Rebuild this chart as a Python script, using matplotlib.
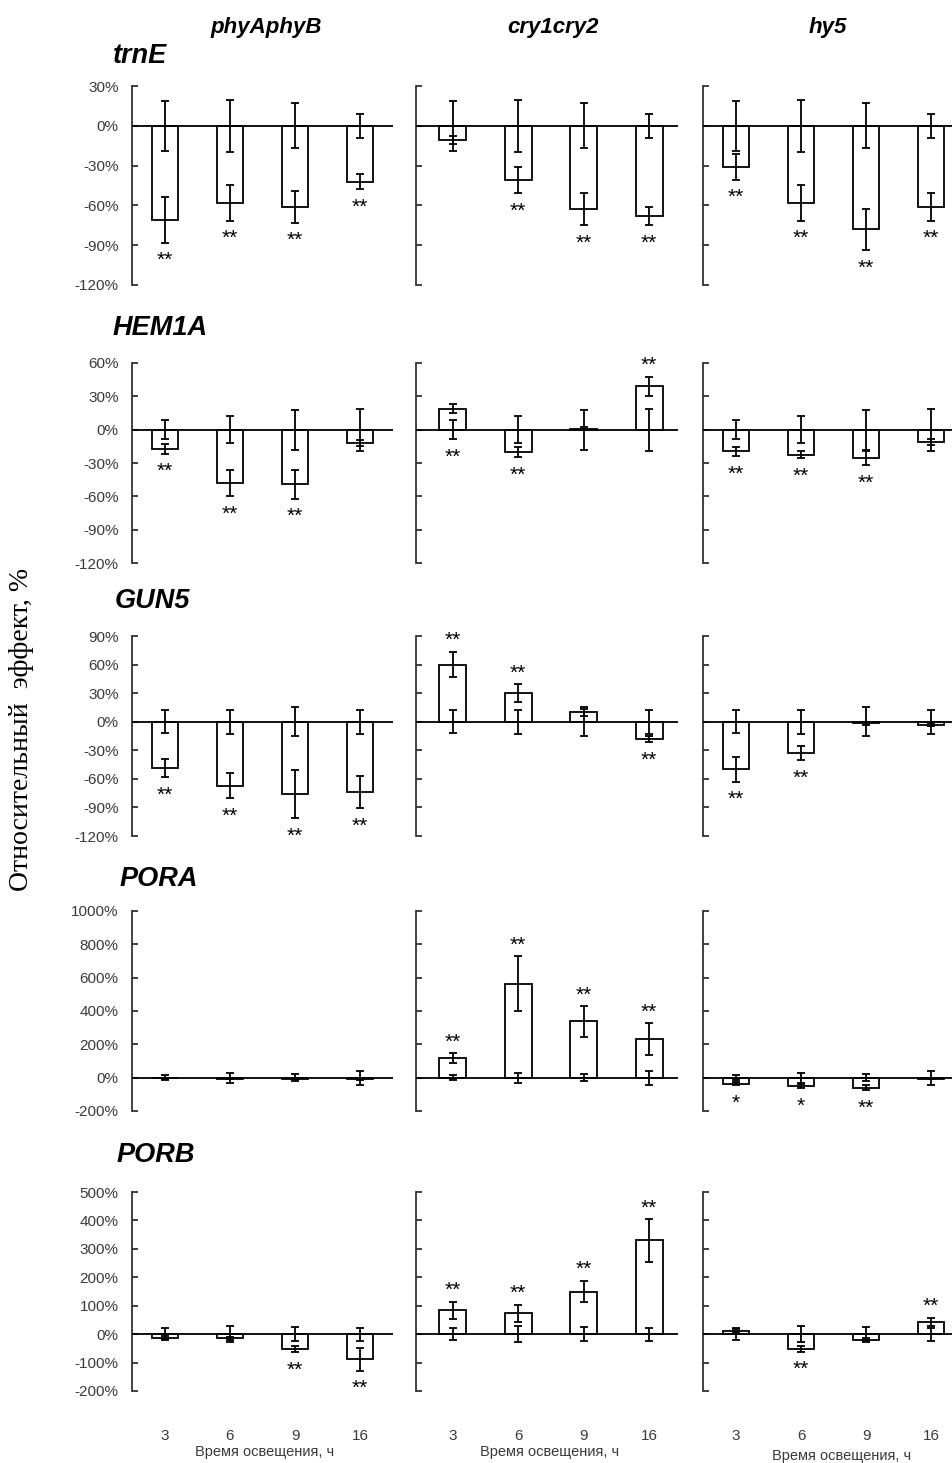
import numpy as np
import matplotlib
matplotlib.use('Agg')
import matplotlib.pyplot as plt
from matplotlib.ticker import FixedLocator, FuncFormatter

plt.rcParams['font.family'] = ['Liberation Sans', 'DejaVu Sans']

# Mutants (columns), genes (rows) and light exposure times
mutants = ['phyAphyB', 'cry1cry2', 'hy5']
genes = ['trnE', 'HEM1A', 'GUN5', 'PORA', 'PORB']
hours = ['3', '6', '9', '16']

# Relative effect (%) per mutant, its error, control error per time point, significance
trne_mean = [[-71, -58, -61, -42], [-11, -41, -63, -68], [-31, -58, -78, -61]]
trne_err = [[17, 13.5, 12, 6], [3, 10, 12, 7], [9.5, 13.5, 15.5, 10.5]]
trne_ctrl = [19, 19.5, 17, 9]
trne_sig = [['**', '**', '**', '**'], ['', '**', '**', '**'], ['**', '**', '**', '**']]

hem1a_mean = [[-17, -48, -49, -12], [19, -20, 1, 39], [-19.5, -22.5, -25.5, -11]]
hem1a_err = [[4.5, 12, 13, 3], [4, 4.5, 1, 8.5], [4, 3, 6.5, 2.5]]
hem1a_ctrl = [8.5, 12, 18, 19]
hem1a_sig = [['**', '**', '**', ''], ['**', '**', '', '**'], ['**', '**', '**', '']]

gun5_mean = [[-49, -67, -76, -74], [60, 30, 10, -18], [-50, -33, -1.5, -3]]
gun5_err = [[9.5, 13, 25, 16.5], [13.5, 9.5, 3.5, 3.5], [13, 7.5, 1.5, 1.5]]
gun5_ctrl = [12, 12.5, 15, 12.5]
gun5_sig = [['**', '**', '**', '**'], ['**', '**', '', '**'], ['**', '**', '', '']]

pora_mean = [[-4, -5, -5, -6], [118, 564, 338, 232], [-36, -50, -60, -6]]
pora_err = [[5, 5, 5, 5], [28, 165, 92, 95], [8, 12, 14, 4]]
pora_ctrl = [14, 29, 21, 41]
pora_sig = [['', '', '', ''], ['**', '**', '**', '**'], ['*', '*', '**', '']]

porb_mean = [[-12, -15, -52, -88], [84, 73, 150, 330], [12, -52, -20, 42]]
porb_err = [[5, 5, 12, 40], [30, 30, 38, 75], [5, 10, 8, 15]]
porb_ctrl = [20, 27, 24, 23]
porb_sig = [['', '', '**', '**'], ['**', '**', '**', '**'], ['', '**', '', '**']]

# y ranges and tick steps per gene
ylims = [(-120, 30, 30), (-120, 60, 30), (-120, 90, 30), (-200, 1000, 200), (-200, 500, 100)]

# marks that sit under the bar even though the bar goes up
marks_below = {(1, 1, 0)}

means = [trne_mean, hem1a_mean, gun5_mean, pora_mean, porb_mean]
errs = [trne_err, hem1a_err, gun5_err, pora_err, porb_err]
ctrls = [trne_ctrl, hem1a_ctrl, gun5_ctrl, pora_ctrl, porb_ctrl]
sigs = [trne_sig, hem1a_sig, gun5_sig, pora_sig, porb_sig]

W, H = 953, 1463
fig = plt.figure(figsize=(W / 100, H / 100), dpi=100)

rows_px = [(86, 285), (363, 563), (636, 836), (911, 1111), (1192, 1391)]
cols_px = [(132.5, 260, -0.5), (416, 262, -0.56), (703, 260, -0.51)]
title_px = [(113, 56), (113, 328), (115, 601), (120, 879), (117, 1155)]

x = np.arange(len(hours))
tick_color = '#3a3a3a'

for r in range(len(genes)):
    top, bot = rows_px[r]
    lo, hi, step = ylims[r]
    for c in range(len(mutants)):
        x0, w, xl = cols_px[c]
        ax = fig.add_axes([x0 / W, 1 - bot / H, w / W, (bot - top) / H])
        m = np.array(means[r][c], dtype=float)
        e = np.array(errs[r][c], dtype=float)
        ctrl = np.array(ctrls[r], dtype=float)

        ax.bar(x, m, width=0.41, facecolor='white', edgecolor='black', linewidth=1.3, zorder=2)
        ax.axhline(0, color='black', lw=1.3, zorder=3)
        ax.errorbar(x, np.zeros_like(x, dtype=float), yerr=ctrl, fmt='none', ecolor='black',
                    elinewidth=1.3, capsize=3, capthick=1.3, zorder=4)
        ax.errorbar(x, m, yerr=e, fmt='none', ecolor='black',
                    elinewidth=1.3, capsize=3, capthick=1.3, zorder=4)

        # significance marks beyond the outer whisker
        for i, s in enumerate(sigs[r][c]):
            if not s:
                continue
            below = m[i] < 0 or (r, c, i) in marks_below
            if below:
                yend = min(m[i] - e[i], -ctrl[i])
                off = -13
            else:
                yend = max(m[i] + e[i], ctrl[i])
                off = 8
            ax.annotate(s, (x[i], yend), xytext=(0, off), textcoords='offset points',
                        ha='center', va='center', fontsize=15, color='black')

        ax.set_xlim(xl, xl + 4)
        ax.set_ylim(lo, hi)
        for side in ['top', 'right', 'bottom']:
            ax.spines[side].set_visible(False)
        ax.spines['left'].set_color('#333333')
        ax.spines['left'].set_linewidth(1.3)
        ax.yaxis.set_major_locator(FixedLocator(np.arange(lo, hi + 1, step)))
        ax.yaxis.set_major_formatter(FuncFormatter(lambda v, p: f'{int(round(v))}%'))
        ax.tick_params(axis='y', direction='in', length=4, width=1.3, color='#333333',
                       labelsize=11, labelcolor=tick_color, pad=10)
        if c > 0:
            ax.tick_params(axis='y', labelleft=False)
        ax.set_xticks(x)
        if r == len(genes) - 1:
            ax.set_xticklabels(hours)
            ax.tick_params(axis='x', length=0, pad=27, labelsize=11, labelcolor=tick_color)
        else:
            ax.tick_params(axis='x', length=0, labelbottom=False)
        ax.patch.set_alpha(0)

    tx, ty = title_px[r]
    fig.text(tx / W, 1 - ty / H, genes[r], fontsize=19.5, fontweight='bold', fontstyle='italic',
             ha='left', va='center')

# column headers
for name, cx in zip(mutants, [266, 553, 828]):
    fig.text(cx / W, 1 - 27 / H, name, fontsize=16, fontweight='bold', fontstyle='italic',
             ha='center', va='center')

# x axis captions under each column
for cx, cy in [(265, 1452), (550, 1452), (842, 1456)]:
    fig.text(cx / W, 1 - cy / H, 'Время освещения, ч', fontsize=10.5, color=tick_color,
             ha='center', va='center')

fig.text(22 / W, 1 - 729 / H, 'Относительный  эффект, %', rotation=90, fontsize=20,
         family=['Liberation Serif', 'DejaVu Serif'], ha='center', va='center')

fig.savefig('out.png', dpi=100, facecolor='white')
